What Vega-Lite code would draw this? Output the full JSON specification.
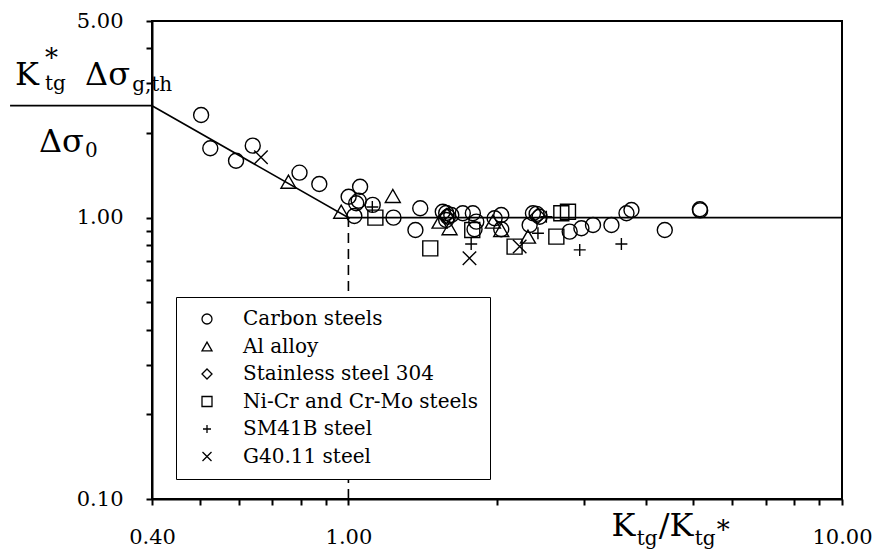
{
  "$schema": "https://vega.github.io/schema/vega-lite/v6.json",
  "width": 690,
  "height": 478,
  "autosize": {"type": "none"},
  "padding": {"left": 152, "top": 21, "right": 37, "bottom": 56},
  "background": "white",
  "config": {
    "view": {"stroke": "black", "strokeWidth": 2},
    "axis": {
      "domainColor": "black", "domainWidth": 2, "tickColor": "black", "tickWidth": 2, "tickSize": 6,
      "labelColor": "black", "labelFont": "DejaVu Serif", "labelFontSize": 21,
      "grid": false, "labelOverlap": false, "labelBound": false, "labelFlush": false
    },
    "legend": {"labelFont": "DejaVu Serif"},
    "text": {"font": "DejaVu Serif", "color": "black"}
  },
  "encoding": {
    "x": {
      "field": "x", "type": "quantitative",
      "scale": {"type": "log", "domain": [0.4, 10], "nice": false},
      "axis": {
        "title": null,
        "values": [0.4, 0.5, 0.6, 0.7, 0.8, 0.9, 1, 2, 3, 4, 5, 6, 7, 8, 9, 10],
        "labelExpr": "(datum.value == 0.4 || datum.value == 1 || datum.value == 10) ? format(datum.value, '.2f') : ''",
        "labelPadding": 21
      }
    },
    "y": {
      "field": "y", "type": "quantitative",
      "scale": {"type": "log", "domain": [0.1, 5], "nice": false},
      "axis": {
        "title": null,
        "values": [0.1, 0.2, 0.3, 0.4, 0.5, 0.6, 0.7, 0.8, 0.9, 1, 2, 3, 4, 5],
        "labelExpr": "(datum.value == 0.1 || datum.value == 1 || datum.value == 5) ? format(datum.value, '.2f') : ''",
        "labelPadding": 23
      }
    }
  },
  "layer": [
    {
      "data": {"values": [{"x": 0.4, "y": 2.5}, {"x": 1, "y": 1}, {"x": 10, "y": 1}]},
      "mark": {"type": "line", "color": "black", "strokeWidth": 1.6}
    },
    {
      "data": {"values": [{"x": 0.2063, "x2": 0.4, "y": 2.5}]},
      "mark": {"type": "rule", "color": "black", "strokeWidth": 1.8},
      "encoding": {"x2": {"field": "x2"}}
    },
    {
      "data": {"values": [{"x": 1, "y": 0.1, "y2": 1}]},
      "mark": {"type": "rule", "color": "black", "strokeWidth": 1.6, "strokeDash": [10, 6]},
      "encoding": {"y2": {"field": "y2"}}
    },
    {
      "data": {"values": [
        {"material": "Carbon steels", "x": 0.503, "y": 2.317},
        {"material": "Carbon steels", "x": 0.525, "y": 1.764},
        {"material": "Carbon steels", "x": 0.592, "y": 1.594},
        {"material": "Carbon steels", "x": 0.640, "y": 1.803},
        {"material": "Carbon steels", "x": 0.796, "y": 1.445},
        {"material": "Carbon steels", "x": 0.873, "y": 1.317},
        {"material": "Carbon steels", "x": 1.056, "y": 1.288},
        {"material": "Carbon steels", "x": 1.001, "y": 1.187},
        {"material": "Carbon steels", "x": 1.049, "y": 1.149},
        {"material": "Carbon steels", "x": 1.037, "y": 1.125},
        {"material": "Carbon steels", "x": 1.120, "y": 1.110},
        {"material": "Carbon steels", "x": 1.028, "y": 1.014},
        {"material": "Carbon steels", "x": 1.234, "y": 1.0},
        {"material": "Carbon steels", "x": 1.398, "y": 1.080},
        {"material": "Carbon steels", "x": 1.367, "y": 0.904},
        {"material": "Carbon steels", "x": 1.553, "y": 1.050},
        {"material": "Carbon steels", "x": 1.590, "y": 1.008},
        {"material": "Carbon steels", "x": 1.578, "y": 0.981},
        {"material": "Carbon steels", "x": 1.616, "y": 1.022},
        {"material": "Carbon steels", "x": 1.578, "y": 1.039},
        {"material": "Carbon steels", "x": 1.705, "y": 1.037},
        {"material": "Carbon steels", "x": 1.787, "y": 1.037},
        {"material": "Carbon steels", "x": 1.816, "y": 0.968},
        {"material": "Carbon steels", "x": 1.801, "y": 0.909},
        {"material": "Carbon steels", "x": 1.978, "y": 0.995},
        {"material": "Carbon steels", "x": 2.040, "y": 1.022},
        {"material": "Carbon steels", "x": 2.040, "y": 0.909},
        {"material": "Carbon steels", "x": 2.365, "y": 1.037},
        {"material": "Carbon steels", "x": 2.440, "y": 1.008},
        {"material": "Carbon steels", "x": 2.329, "y": 0.942},
        {"material": "Carbon steels", "x": 2.406, "y": 1.031},
        {"material": "Carbon steels", "x": 2.807, "y": 0.892},
        {"material": "Carbon steels", "x": 2.965, "y": 0.917},
        {"material": "Carbon steels", "x": 3.130, "y": 0.942},
        {"material": "Carbon steels", "x": 3.411, "y": 0.942},
        {"material": "Carbon steels", "x": 3.659, "y": 1.037},
        {"material": "Carbon steels", "x": 3.745, "y": 1.065},
        {"material": "Carbon steels", "x": 4.375, "y": 0.904},
        {"material": "Carbon steels", "x": 5.152, "y": 1.071},
        {"material": "Carbon steels", "x": 5.160, "y": 1.061},
        {"material": "Al alloy", "x": 0.756, "y": 1.342},
        {"material": "Al alloy", "x": 0.967, "y": 1.050},
        {"material": "Al alloy", "x": 1.230, "y": 1.194},
        {"material": "Al alloy", "x": 1.530, "y": 0.968},
        {"material": "Al alloy", "x": 1.603, "y": 0.917},
        {"material": "Al alloy", "x": 1.962, "y": 0.968},
        {"material": "Al alloy", "x": 2.040, "y": 0.904},
        {"material": "Al alloy", "x": 2.311, "y": 0.856},
        {"material": "Stainless steel 304", "x": 1.580, "y": 1.014},
        {"material": "Stainless steel 304", "x": 2.418, "y": 1.014},
        {"material": "Ni-Cr and Cr-Mo steels", "x": 1.134, "y": 1.0},
        {"material": "Ni-Cr and Cr-Mo steels", "x": 1.465, "y": 0.778},
        {"material": "Ni-Cr and Cr-Mo steels", "x": 1.782, "y": 0.904},
        {"material": "Ni-Cr and Cr-Mo steels", "x": 2.171, "y": 0.789},
        {"material": "Ni-Cr and Cr-Mo steels", "x": 2.638, "y": 0.856},
        {"material": "Ni-Cr and Cr-Mo steels", "x": 2.700, "y": 1.037},
        {"material": "Ni-Cr and Cr-Mo steels", "x": 2.785, "y": 1.050},
        {"material": "SM41B steel", "x": 1.118, "y": 1.091},
        {"material": "SM41B steel", "x": 1.773, "y": 0.806},
        {"material": "SM41B steel", "x": 2.421, "y": 0.880},
        {"material": "SM41B steel", "x": 2.518, "y": 1.008},
        {"material": "SM41B steel", "x": 2.942, "y": 0.768},
        {"material": "SM41B steel", "x": 3.573, "y": 0.806},
        {"material": "G40.11 steel", "x": 0.665, "y": 1.639},
        {"material": "G40.11 steel", "x": 1.759, "y": 0.718},
        {"material": "G40.11 steel", "x": 2.223, "y": 0.789}
      ]},
      "mark": {"type": "point", "filled": false, "color": "black", "strokeWidth": 1.4, "size": 225, "opacity": 1},
      "encoding": {
        "shape": {
          "field": "material", "type": "nominal",
          "scale": {
            "domain": ["Carbon steels", "Al alloy", "Stainless steel 304", "Ni-Cr and Cr-Mo steels", "SM41B steel", "G40.11 steel"],
            "range": ["circle", "triangle-up", "diamond", "square", "M-0.8,0L0.8,0M0,-0.8L0,0.8", "M-0.9,-0.9L0.9,0.9M-0.9,0.9L0.9,-0.9"]
          },
          "legend": {
            "title": null, "orient": "none", "legendX": 24, "legendY": 276,
            "strokeColor": "black", "fillColor": "white", "padding": 12,
            "labelFont": "DejaVu Serif", "labelFontSize": 20, "labelColor": "black", "labelLimit": 400,
            "labelExpr": "datum.label + '\u00a0\u00a0\u00a0\u00a0'",
            "symbolSize": 100, "symbolStrokeWidth": 1.3, "symbolStrokeColor": "black", "symbolFillColor": "transparent",
            "rowPadding": 7.5, "symbolOffset": 9, "labelOffset": 26,
            "encode": {"legend": {"update": {"strokeWidth": {"value": 1.5}}}}
          }
        }
      }
    },
    {
      "data": {"values": [
        {"t": "K", "x": 0.2111, "y": 2.961},
        {"t": "Δσ", "x": 0.2928, "y": 2.961},
        {"t": "Δσ", "x": 0.2361, "y": 1.712},
        {"t": "K", "x": 3.411, "y": 0.0736},
        {"t": "/K", "x": 4.255, "y": 0.0736}
      ]},
      "mark": {"type": "text", "align": "left", "baseline": "alphabetic", "fontSize": 32, "font": "DejaVu Serif"},
      "encoding": {"text": {"field": "t"}}
    },
    {
      "data": {"values": [
        {"t": "tg", "x": 0.2428, "y": 2.842},
        {"t": "g,th", "x": 0.3646, "y": 2.818},
        {"t": "0", "x": 0.2927, "y": 1.643},
        {"t": "tg", "x": 3.839, "y": 0.0688},
        {"t": "tg", "x": 5.033, "y": 0.0688}
      ]},
      "mark": {"type": "text", "align": "left", "baseline": "alphabetic", "fontSize": 20, "font": "DejaVu Serif"},
      "encoding": {"text": {"field": "t"}}
    },
    {
      "data": {"values": [
        {"t": "*", "x": 0.2428, "y": 3.43},
        {"t": "*", "x": 5.578, "y": 0.0722}
      ]},
      "mark": {"type": "text", "align": "left", "baseline": "alphabetic", "fontSize": 26, "font": "DejaVu Serif"},
      "encoding": {"text": {"field": "t"}}
    }
  ]
}
